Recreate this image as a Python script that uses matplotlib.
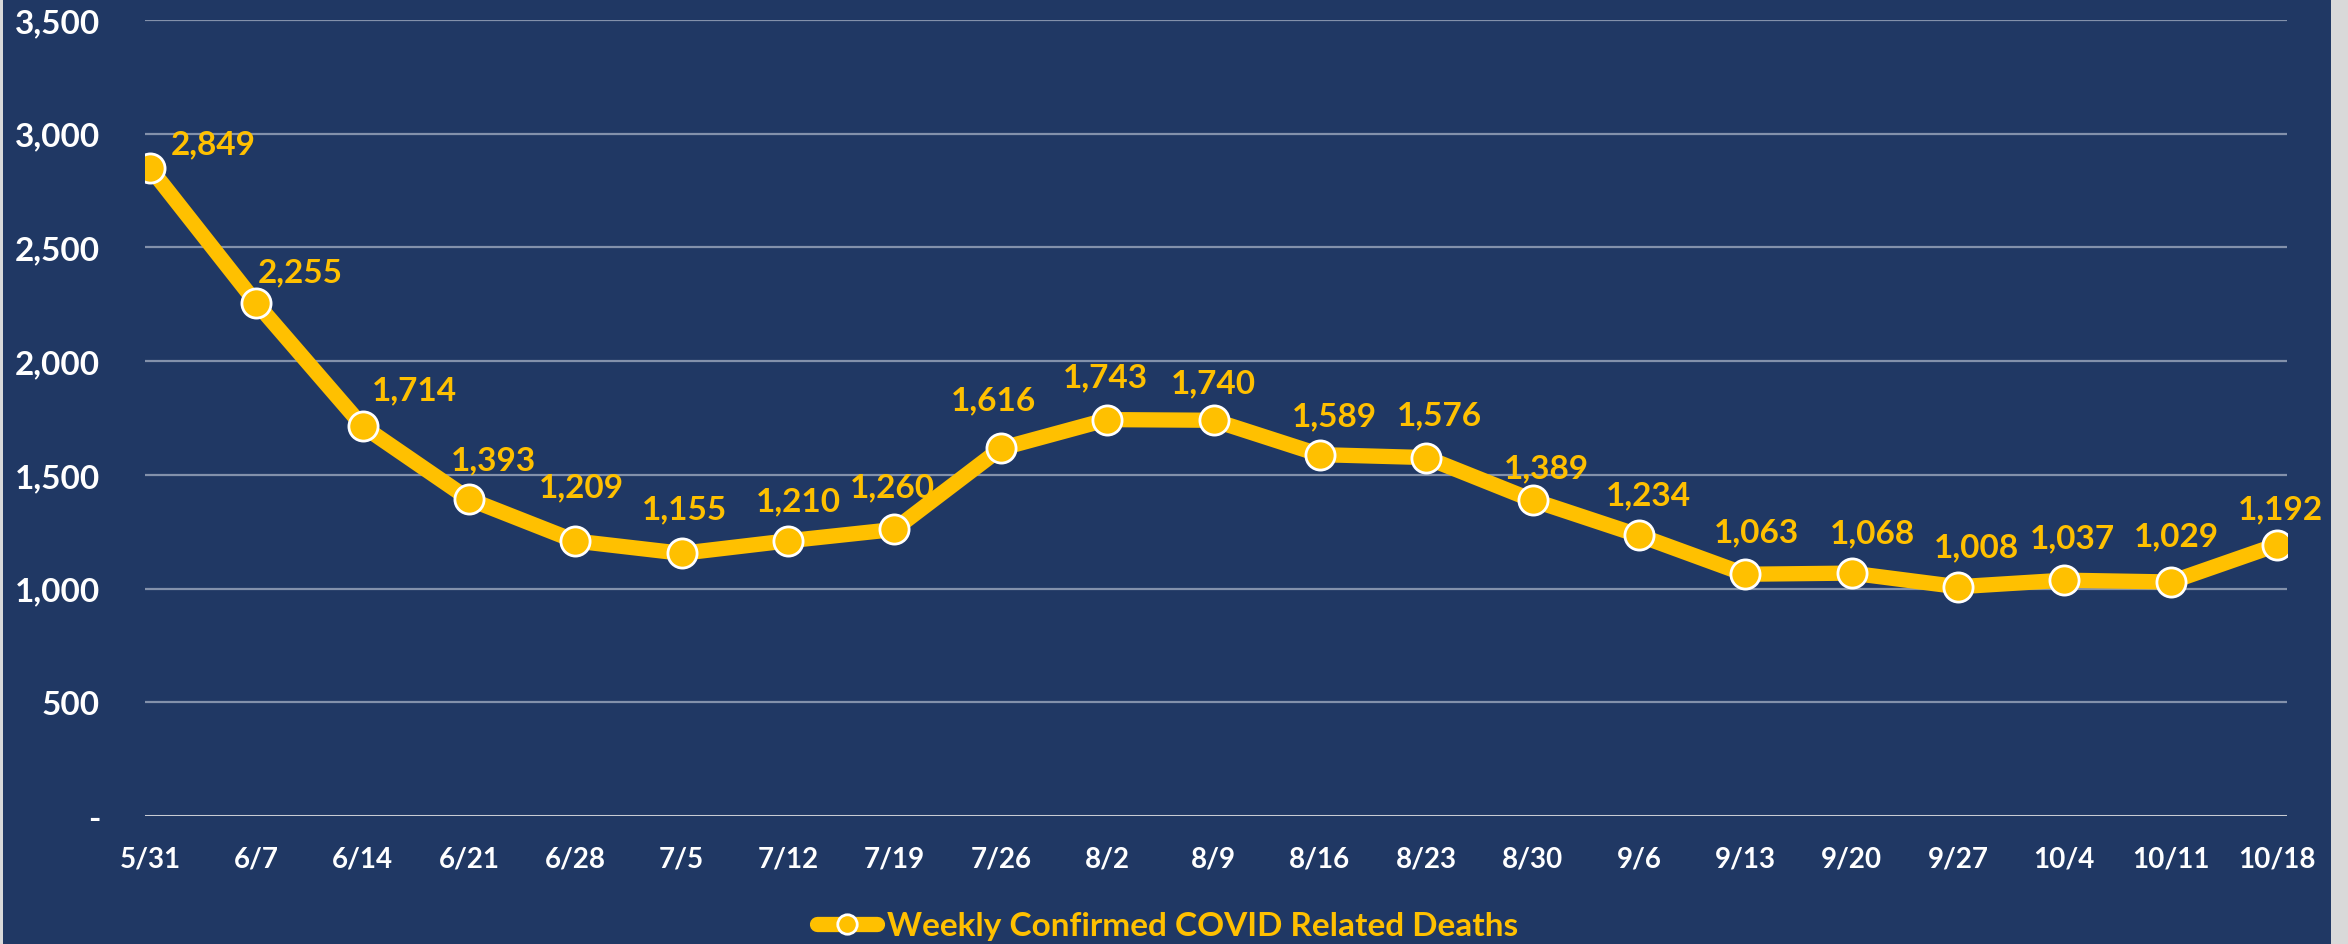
import numpy as np
import matplotlib
matplotlib.use("Agg")
import matplotlib.pyplot as plt
from matplotlib.lines import Line2D
from matplotlib.patches import Rectangle

# weekly values
weeks = ["5/31", "6/7", "6/14", "6/21", "6/28", "7/5", "7/12", "7/19", "7/26", "8/2", "8/9",
         "8/16", "8/23", "8/30", "9/6", "9/13", "9/20", "9/27", "10/4", "10/11", "10/18"]
deaths = [2849, 2255, 1714, 1393, 1209, 1155, 1210, 1260, 1616, 1743, 1740,
          1589, 1576, 1389, 1234, 1063, 1068, 1008, 1037, 1029, 1192]
y_ticks = [0, 500, 1000, 1500, 2000, 2500, 3000, 3500]
y_tick_labels = ["-", "500", "1,000", "1,500", "2,000", "2,500", "3,000", "3,500"]
series_name = "Weekly Confirmed COVID Related Deaths"

# label offsets in pixels (dx, dy up), the labels were nudged by hand in the original
label_dx = [63, 44, 52, 24, 6, 3, 10, -2, -7, -2, 0, 15, 13, 14, 10, 11, 21, 18, 8, 6, 3]
label_dy = [24, 31, 36, 39, 54, 45, 40, 43, 49, 43, 37, 39, 43, 32, 41, 42, 40, 40, 42, 46, 36]

NAVY = "#203864"
GOLD = "#FFC000"
W, H = 2348, 945
DPI = 100
PX = 72.0 / DPI  # pixel -> points

plt.rcParams['font.family'] = ['Lato', 'DejaVu Sans']
plt.rcParams['font.weight'] = 'bold'

fig = plt.figure(figsize=(W / DPI, H / DPI), dpi=DPI)
fig.patch.set_facecolor("#d9d9d9")
bg = Rectangle((3 / W, 0), (2331 - 3) / W, 1, transform=fig.transFigure,
               facecolor=NAVY, edgecolor="none", zorder=-10)
fig.patches.append(bg)

ax = fig.add_axes([145 / W, 128 / H, (2287 - 145) / W, (924 - 128) / H])
ax.patch.set_alpha(0)

x = np.arange(len(weeks))
ax.plot(x, deaths, color=GOLD, lw=11, marker="o", markersize=21,
        markerfacecolor=GOLD, markeredgecolor="white", markeredgewidth=2, zorder=3,
        solid_joinstyle="miter")

for i, v in enumerate(deaths):
    ax.annotate(f"{v:,}", (x[i], v), xytext=(label_dx[i] * PX, label_dy[i] * PX),
                textcoords="offset points", ha="center", va="center",
                color=GOLD, fontsize=24, fontweight="bold", zorder=4)

ax.set_xlim(-0.047, 20.094)
ax.set_ylim(0, 3500)
ax.set_yticks(y_ticks)
ax.set_yticklabels(y_tick_labels)
ax.set_xticks(x)
ax.set_xticklabels(weeks)
ax.tick_params(axis="y", length=0, pad=45 * PX, labelsize=24, labelcolor="white")
ax.tick_params(axis="x", length=0, pad=30 * PX, labelsize=20, labelcolor="white")
for lab in ax.get_xticklabels() + ax.get_yticklabels():
    lab.set_fontweight("bold")

for y in y_ticks[1:]:
    ax.axhline(y, color="#8391ab", lw=1.6, zorder=1)
ax.axhline(0, color="#c8ccd4", lw=2.2, zorder=1)

for s in ax.spines.values():
    s.set_visible(False)

handle = Line2D([], [], color=GOLD, lw=11, marker="o", markersize=14,
                markerfacecolor=GOLD, markeredgecolor="white", markeredgewidth=2,
                solid_capstyle="round")
leg = fig.legend([handle], [series_name], loc="center",
                 bbox_to_anchor=(1168 / W, 1 - 927 / H), frameon=False,
                 handlelength=1.8, handletextpad=0.3, prop={"size": 24, "weight": "bold"})
for t in leg.get_texts():
    t.set_color(GOLD)

fig.savefig("out.png", dpi=DPI, facecolor=fig.get_facecolor())
